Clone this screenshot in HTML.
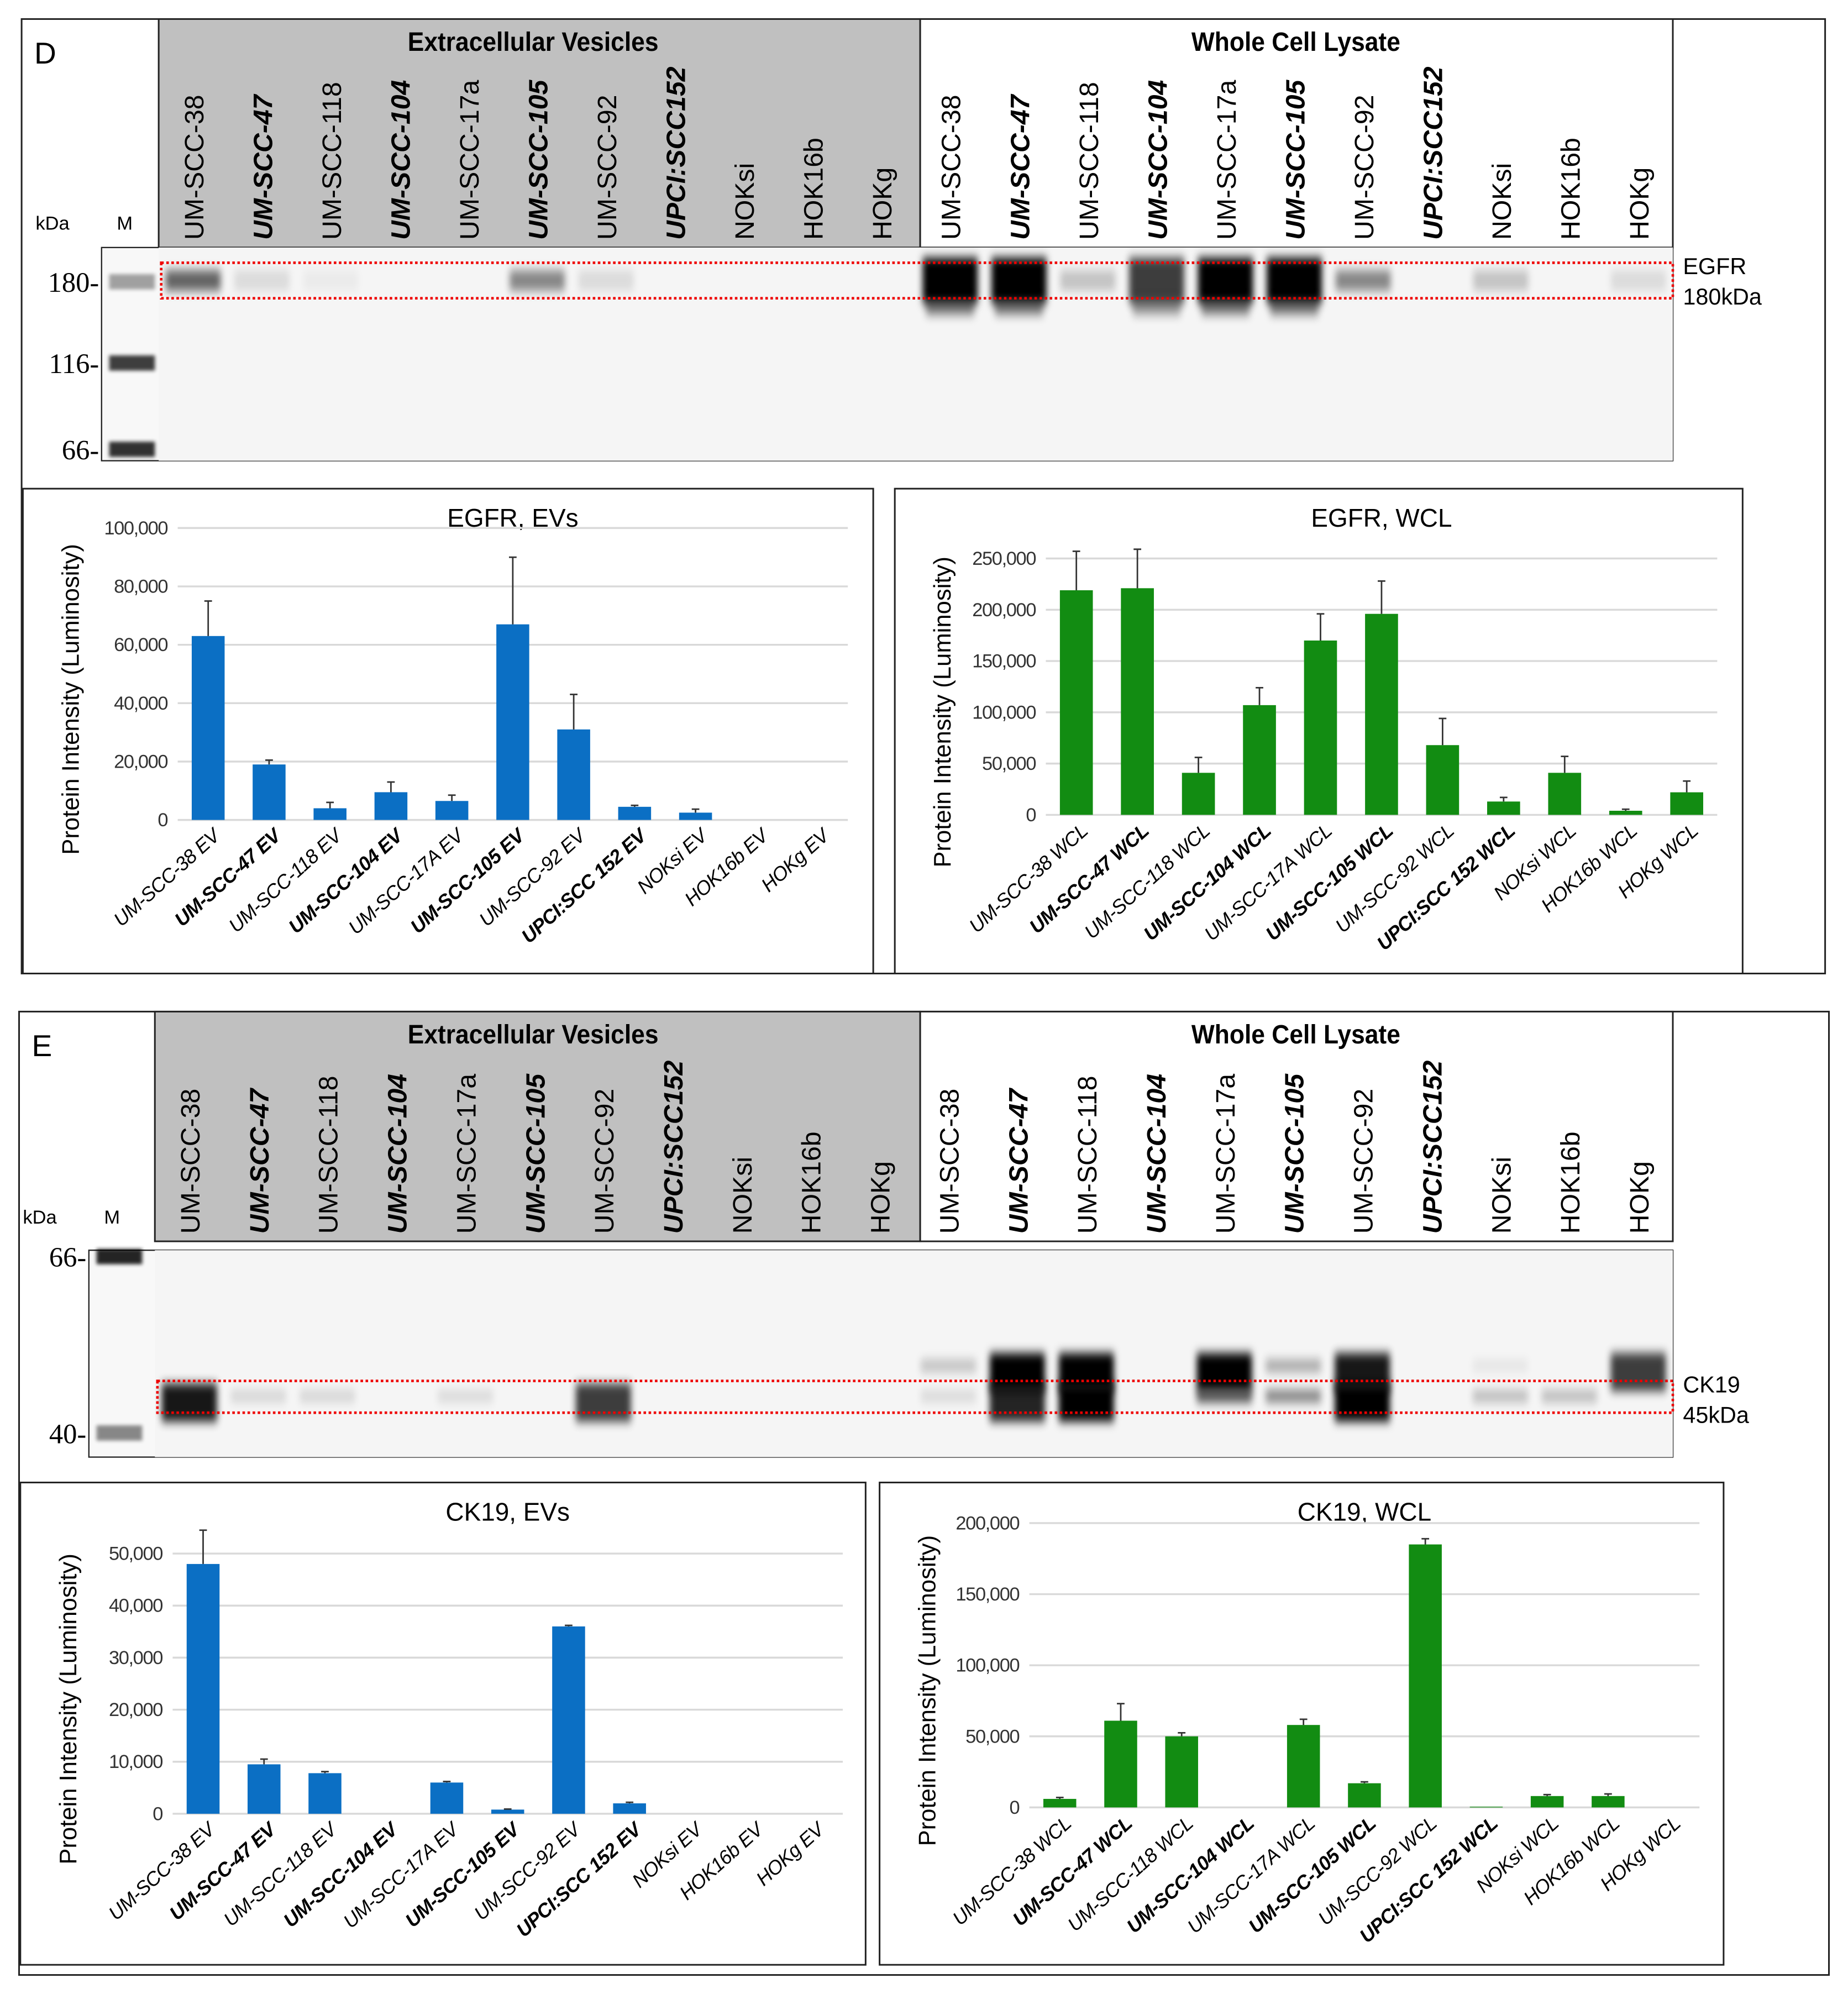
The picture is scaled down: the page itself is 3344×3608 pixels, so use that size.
<!DOCTYPE html>
<html><head><meta charset="utf-8"><style>
html,body{margin:0;padding:0;background:#fff;}
svg{display:block;font-family:"Liberation Sans",sans-serif;}
</style></head><body>
<svg id="fig" width="3344" height="3608" viewBox="0 0 1456 1571" xmlns="http://www.w3.org/2000/svg">
<defs>
<filter id="blur" x="-50%" y="-150%" width="200%" height="400%"><feGaussianBlur stdDeviation="2.5 4"/></filter>
<filter id="blur2" x="-50%" y="-100%" width="200%" height="300%"><feGaussianBlur stdDeviation="1.5 1.5"/></filter>
</defs>
<g id="root"></g>
</svg>
<script>
// ---- data ----
const evCats=["UM-SCC-38 EV","UM-SCC-47 EV","UM-SCC-118 EV","UM-SCC-104 EV","UM-SCC-17A EV","UM-SCC-105 EV","UM-SCC-92 EV","UPCI:SCC 152 EV","NOKsi EV","HOK16b EV","HOKg EV"];
const wclCats=["UM-SCC-38 WCL","UM-SCC-47 WCL","UM-SCC-118 WCL","UM-SCC-104 WCL","UM-SCC-17A WCL","UM-SCC-105 WCL","UM-SCC-92 WCL","UPCI:SCC 152 WCL","NOKsi WCL","HOK16b WCL","HOKg WCL"];
const boldIdx=[1,3,5,7];
const laneNames=["UM-SCC-38","UM-SCC-47","UM-SCC-118","UM-SCC-104","UM-SCC-17a","UM-SCC-105","UM-SCC-92","UPCI:SCC152","NOKsi","HOK16b","HOKg"];
const egfrEV=[63000,19000,4000,9500,6500,67000,31000,4500,2500,0,0];
const egfrEVerr=[12000,1500,2000,3500,2000,23000,12000,500,1200,0,0];
const egfrWCL=[219000,221000,41000,107000,170000,196000,68000,13000,41000,4000,22000];
const egfrWCLerr=[38000,38000,15000,17000,26000,32000,26000,4000,16000,1500,11000];
const ck19EV=[48000,9500,7800,0,6000,800,36000,2000,0,0,0];
const ck19EVerr=[6500,1000,300,0,200,100,200,200,0,0,0];
const ck19WCL=[6000,61000,50000,0,58000,17000,185000,500,8000,8000,0];
const ck19WCLerr=[1000,12000,2500,0,4000,1000,4000,0,1000,1500,0];
const ticksEgfrEV=[0,20000,40000,60000,80000,100000];
const ticksEgfrWCL=[0,50000,100000,150000,200000,250000];
const ticksCkEV=[0,10000,20000,30000,40000,50000];
const ticksCkWCL=[0,50000,100000,150000,200000];
const egfrBands=[0.6,0.1,0.04,0,0,0.45,0.1,0,0,0,0, 1,1,0.2,0.75,1,1,0.45,0,0.2,0,0.1];
const ck19Upper=[0,0,0,0,0,0,0,0,0,0,0, 0.2,1,1,0,1,0.3,0.9,0,0.06,0,0.75];
const ck19Lower=[0.9,0.12,0.12,0,0.1,0,0.75,0,0,0,0, 0.1,0.85,1,0,0.65,0.45,1,0,0.22,0.22,0];

const NS="http://www.w3.org/2000/svg";
const root=document.getElementById('root');
function el(tag,attrs,parent,text){const e=document.createElementNS(NS,tag);for(const k in attrs)e.setAttribute(k,attrs[k]);if(text!==undefined)e.textContent=text;(parent||root).appendChild(e);return e;}
function fmt(v){return v.toLocaleString('en-US');}

function blot(cfg){
  const g=el('g',{});
  
  
  el('rect',{x:cfg.fx,y:cfg.fy,width:cfg.fw,height:cfg.fh,fill:'none',stroke:'#222','stroke-width':1.3},g);
  el('rect',{x:cfg.gx,y:cfg.hy,width:725-cfg.gx,height:cfg.hh,fill:'#c0c0c0',stroke:'#222','stroke-width':1.3},g);
  el('rect',{x:725,y:cfg.hy,width:593,height:cfg.hh,fill:'#fff',stroke:'#222','stroke-width':1.3},g);
  const t1=el('text',{x:420,y:cfg.hy+25,'font-size':21,'font-weight':'bold','text-anchor':'middle',transform:`translate(420,0) scale(0.92,1) translate(-420,0)`},g,'Extracellular  Vesicles');
  
  const t2=el('text',{x:1021,y:cfg.hy+25,'font-size':21,'font-weight':'bold','text-anchor':'middle',transform:`translate(1021,0) scale(0.92,1) translate(-1021,0)`},g,'Whole Cell Lysate');
  
  el('text',{x:cfg.fx+10,y:cfg.fy+35,'font-size':24},g,cfg.letter);
  el('rect',{x:cfg.mx,y:cfg.by,width:1318-cfg.mx,height:cfg.bh,fill:'#f8f8f8',stroke:'#222','stroke-width':1},g);
  el('rect',{x:cfg.gx,y:cfg.by,width:1318-cfg.gx,height:cfg.bh,fill:'#f5f5f5'},g);
  const lw=(1318-cfg.gx)/22;
  for(let i=0;i<22;i++){
    const cx=cfg.gx+lw*(i+0.5);
    const nm=laneNames[i%11];
    const lab=el('text',{transform:`translate(${cx+8},${cfg.hy+cfg.hh-6}) rotate(-90)`,'font-size':21,'font-weight':boldIdx.includes(i%11)?'bold':'normal','font-style':boldIdx.includes(i%11)?'italic':'normal'},g,nm);
    
    cfg.bands(g,i,cx,lw);
  }
  el('text',{x:cfg.mx-52,y:cfg.hy+cfg.hh-14,'font-size':15},g,'kDa');
  el('text',{x:cfg.mx+12,y:cfg.hy+cfg.hh-14,'font-size':15},g,'M');
  cfg.markers.forEach(m=>{
    el('rect',{x:cfg.mx+6,y:m[1]-6,width:36,height:12,fill:'#000',opacity:m[2],filter:'url(#blur2)'},g);
    el('text',{x:cfg.mx-2,y:m[1]+8,'font-size':22,'text-anchor':'end','font-family':'Liberation Serif, serif'},g,m[0]+'-');
  });
  const rb=el('rect',{x:cfg.gx+2,y:cfg.ry,width:1318-cfg.gx-2,height:cfg.rh,fill:'none',stroke:'#e00','stroke-width':2,'stroke-dasharray':'2 2'},g);
  
  el('text',{x:1326,y:cfg.ry+9,'font-size':18},g,cfg.p1);
  el('text',{x:1326,y:cfg.ry+33,'font-size':18},g,cfg.p2);
}

blot({name:'egfr-blot',letter:'D',fx:17,fy:15,fw:1421,fh:752,gx:125,hy:15,hh:180,by:195,bh:168,mx:80,ry:207,rh:28,p1:'EGFR',p2:'180kDa',
 markers:[[180,222,0.35],[116,286,0.75],[66,354,0.8]],
 bands:(g,i,cx,lw)=>{const v=egfrBands[i];if(!v)return;const big=v>0.7;const h=big?36:16;const y=big?203:213;el('rect',{x:cx-lw*0.4,y:y,width:lw*0.8,height:h,fill:'#000',opacity:v,filter:'url(#blur)'},g);
   if(big)el('rect',{x:cx-lw*0.35,y:236,width:lw*0.7,height:12,fill:'#000',opacity:0.5*v,filter:'url(#blur)'},g);}});
blot({name:'ck19-blot',letter:'E',fx:15,fy:797,fw:1426,fh:759,gx:122,hy:797,hh:181,by:985,bh:163,mx:70,ry:1088,rh:25,p1:'CK19',p2:'45kDa',
 markers:[[66,990,0.85],[40,1129,0.45]],
 bands:(g,i,cx,lw)=>{const u=ck19Upper[i],l=ck19Lower[i];
   if(u)el('rect',{x:cx-lw*0.4,y:u>0.7?1066:1071,width:lw*0.8,height:u>0.7?30:10,fill:'#000',opacity:u,filter:'url(#blur)'},g);
   if(l)el('rect',{x:cx-lw*0.4,y:l>0.7?1090:1095,width:lw*0.8,height:l>0.7?30:10,fill:'#000',opacity:l,filter:'url(#blur)'},g);}});

function chart(c){
  const g=el('g',{});
  
  
  el('rect',{x:c.bx,y:c.by,width:c.bw,height:c.bh,fill:'#fff',stroke:'#222','stroke-width':1.3},g);
  const tt=el('text',{x:(c.x0+c.x1)/2,y:c.by+30,'font-size':20,'text-anchor':'middle'},g,c.title);
  
  const max=c.ticks[c.ticks.length-1];
  const Y=v=>c.y0-(v/max)*(c.y0-c.yTop);
  const n=c.cats.length, step=(c.x1-c.x0)/n;
  const X=i=>c.x0+step*(i+0.5);
  c.ticks.forEach(t=>{
    el('line',{x1:c.x0,x2:c.x1,y1:Y(t),y2:Y(t),stroke:'#d9d9d9','stroke-width':1.5},g);
    const tl=el('text',{x:c.x0-8,y:Y(t)+5,'font-size':15,'text-anchor':'end',fill:'#333','letter-spacing':'-0.6'},g,fmt(t));
    
  });
  const yl=el('text',{transform:`translate(${c.bx+44},${(c.y0+c.yTop)/2+20}) rotate(-90)`,'font-size':19,'text-anchor':'middle'},g,'Protein Intensity (Luminosity)');
  
  c.vals.forEach((v,i)=>{
    const bw=step*0.54;
    if(v>0){
      const b=el('rect',{x:X(i)-bw/2,y:Y(v),width:bw,height:c.y0-Y(v),fill:c.color},g);
      
    }
    const e=c.errs[i];
    if(e>0){
      const eb=el('path',{d:`M${X(i)},${Y(v)}V${Y(v+e)}M${X(i)-3},${Y(v+e)}H${X(i)+3}`,stroke:'#333','stroke-width':1.2,fill:'none'},g);
      
    }
    const b=boldIdx.includes(i);
    const cl=el('text',{transform:`translate(${X(i)+10},${c.y0+14}) rotate(-42)`,'font-size':15.5,'text-anchor':'end','font-style':'italic','font-weight':b?'bold':'normal','letter-spacing':'-0.3'},g,c.cats[i]);
    
  });
}
chart({name:'egfr-ev-chart',title:'EGFR, EVs',bx:18,by:385,bw:670,bh:382,x0:140,x1:668,y0:646,yTop:416,ticks:ticksEgfrEV,vals:egfrEV,errs:egfrEVerr,cats:evCats,color:'#0b6fc4'});
chart({name:'egfr-wcl-chart',title:'EGFR, WCL',bx:705,by:385,bw:668,bh:382,x0:824,x1:1353,y0:642,yTop:440,ticks:ticksEgfrWCL,vals:egfrWCL,errs:egfrWCLerr,cats:wclCats,color:'#128c12'});
chart({name:'ck19-ev-chart',title:'CK19, EVs',bx:16,by:1168,bw:666,bh:380,x0:136,x1:664,y0:1429,yTop:1224,ticks:ticksCkEV,vals:ck19EV,errs:ck19EVerr,cats:evCats,color:'#0b6fc4'});
chart({name:'ck19-wcl-chart',title:'CK19, WCL',bx:693,by:1168,bw:665,bh:380,x0:811,x1:1339,y0:1424,yTop:1200,ticks:ticksCkWCL,vals:ck19WCL,errs:ck19WCLerr,cats:wclCats,color:'#128c12'});
</script>
</body></html>
